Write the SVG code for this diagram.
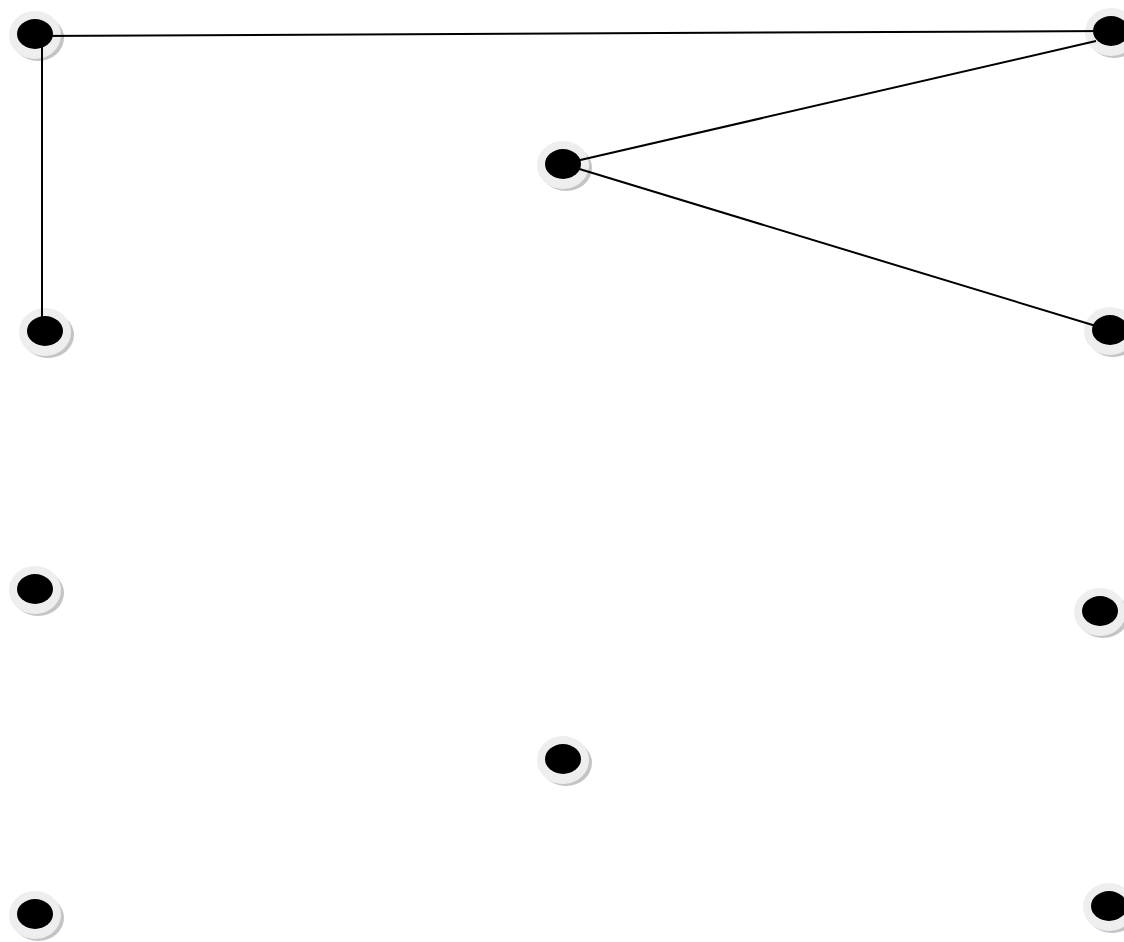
<svg xmlns="http://www.w3.org/2000/svg" width="1124" height="942" viewBox="0 0 1124 942">
<defs>
<style>
.sh{fill:#c4c4c4}
.ring{fill:#eeeeee}
.core{fill:#000000}
.edge{stroke:#000000;stroke-width:2;fill:none}
</style>
<g id="node-shape">
<ellipse class="sh" cx="3" cy="4" rx="26" ry="23"/>
<ellipse class="ring" cx="0" cy="1" rx="26" ry="24"/>
<ellipse class="core" cx="0" cy="0" rx="18" ry="15"/>
</g>
</defs>
<rect width="1124" height="942" fill="#ffffff"/>
<g id="n1"><use href="#node-shape" x="35" y="34"/></g>
<g id="n2"><use href="#node-shape" x="1111" y="31"/></g>
<g id="n3"><use href="#node-shape" x="563" y="164"/></g>
<g id="n4"><use href="#node-shape" x="45" y="331"/></g>
<g id="n5"><use href="#node-shape" x="1110" y="330"/></g>
<g id="n6"><use href="#node-shape" x="35" y="589"/></g>
<g id="n7"><use href="#node-shape" x="1100" y="611"/></g>
<g id="n8"><use href="#node-shape" x="563" y="759"/></g>
<g id="n9"><use href="#node-shape" x="35" y="914"/></g>
<g id="n10"><use href="#node-shape" x="1109" y="906"/></g>
<g id="connectors">
<line class="edge" x1="35" y1="36" x2="1108" y2="31"/>
<line class="edge" x1="42" y1="36" x2="42" y2="318"/>
<line class="edge" x1="1096" y1="41" x2="563" y2="164"/>
<line class="edge" x1="563" y1="164" x2="1096" y2="326"/>
</g>
</svg>
